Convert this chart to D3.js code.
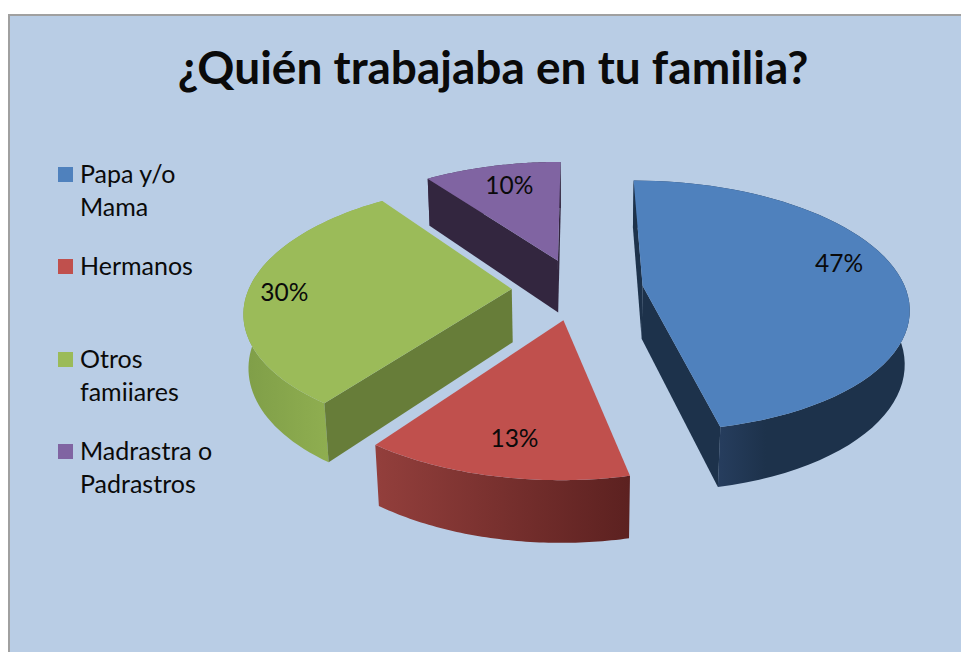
<!DOCTYPE html>
<html><head><meta charset="utf-8">
<script src="https://cdn.jsdelivr.net/npm/d3@7"></script>
<style>html,body{margin:0;padding:0;background:#fff}svg{display:block}text{font-family:Lato,sans-serif;fill:#0a0a0a}</style>
</head><body><svg id="c" width="961" height="652"></svg>
<script>
const titleText = "¿Quién trabajaba en tu familia?";
const categories = ["Papa y/o Mama","Hermanos","Otros famiiares","Madrastra o Padrastros"];
const legendLines = [["Papa y/o","Mama"],["Hermanos"],["Otros","famiiares"],["Madrastra o","Padrastros"]];
const values = [46.6,13.4,30,10];
const labels = ["47%","13%","30%","10%"];
const topColors = ["#4f81bd","#c0504d","#9bbb59","#8064a2"];
const cutColors = ["#1d324b","#5c2120","#677d39","#33263f"];
const rimFrom = ["#273e5f","#933f3c","#7f9e48","#4a3a5e"];
const rimTo = ["#1d324b","#5c2120","#8fae50","#33263f"];
const rimStart = [0.3,0,0,0];
const rimEnd = [0.48,1,0.6,1];
const labelRadius = [0.80,0.79,0.86,0.76];
const labelTurn = [-7,-1,-2,1];
const legendY = [183,275,368,460];
const drawOrder = [3,2,0,1];

const W=961,H=652, cx=577.5, cy=289, R=263, Ry=123, Hz=54, p=0.16, q=0.015, explode=0.25;
const svg=d3.select("#c");
const defs=svg.append("defs");

svg.append("rect").attr("x",9).attr("y",15).attr("width",W).attr("height",H)
  .attr("fill","#b9cde5").attr("stroke","#a0a0a0").attr("stroke-width",2);

svg.append("text").attr("x",493).attr("y",84).attr("text-anchor","middle")
  .attr("font-size",46).attr("font-weight",700).text(titleText);

const project=(u,v,z)=>{const d=1+p*v+q*z;return [cx+u*R/d, cy+(-v*Ry+z*Hz)/d];};
const pie=d3.pie().sort(null).value(d=>d)(values);
const line=d3.line();
const at=(s,a,r,z)=>{const m=(s.startAngle+s.endAngle)/2;
  return project(Math.sin(a)*r+Math.sin(m)*explode, Math.cos(a)*r+Math.cos(m)*explode, z);};
const cross=(a,b,c)=>(b[0]-a[0])*(c[1]-a[1])-(b[1]-a[1])*(c[0]-a[0]);

drawOrder.forEach(i=>{
  const s=pie[i], g=svg.append("g").attr("class","slice");
  const angs=d3.range(0,61).map(k=>s.startAngle+(s.endAngle-s.startAngle)*k/60);
  const gid="rim"+i;
  const lg=defs.append("linearGradient").attr("id",gid);
  lg.append("stop").attr("offset",rimStart[i]).attr("stop-color",rimFrom[i]);
  lg.append("stop").attr("offset",rimEnd[i]).attr("stop-color",rimTo[i]);
  const rim=angs.map(a=>at(s,a,1,0)).concat(angs.slice().reverse().map(a=>at(s,a,1,1)));
  g.append("path").attr("fill",`url(#${gid})`).attr("d",line(rim)+"Z");
  const mid=at(s,(s.startAngle+s.endAngle)/2,1,0);
  [s.startAngle,s.endAngle].forEach(a=>{
    const A=at(s,a,0,0),B=at(s,a,1,0),C=at(s,a,1,1),D=at(s,a,0,1);
    if(cross(A,B,C)*cross(A,B,mid)<0)
      g.append("path").attr("fill",cutColors[i]).attr("d",line([A,B,C,D])+"Z");
  });
  const top=[at(s,0,0,0)].concat(angs.map(a=>at(s,a,1,0)));
  g.append("path").attr("fill",topColors[i]).attr("d",line(top)+"Z");
});

pie.forEach((s,i)=>{
  const m=(s.startAngle+s.endAngle)/2+labelTurn[i]*Math.PI/180;
  const pt=at(s,m,labelRadius[i],0);
  svg.append("text").attr("x",pt[0]).attr("y",pt[1]+8).attr("text-anchor","middle").attr("font-size",24.5).text(labels[i]);
});

const lg=svg.append("g");
legendLines.forEach((ls,i)=>{
  lg.append("rect").attr("x",58).attr("y",legendY[i]-16).attr("width",15).attr("height",15).attr("fill",topColors[i]);
  ls.forEach((t,j)=>lg.append("text").attr("x",80).attr("y",legendY[i]+j*32.5).attr("font-size",25).text(t));
});
</script></body></html>
